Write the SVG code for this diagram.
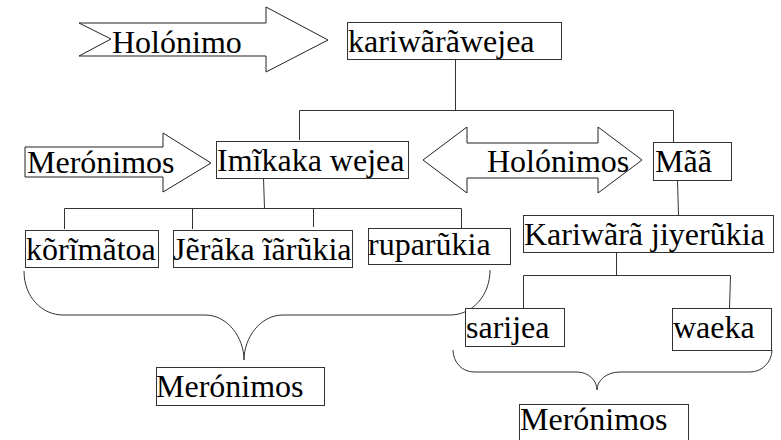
<svg xmlns="http://www.w3.org/2000/svg" width="781" height="440" viewBox="0 0 781 440">
  <style>
    .box { fill: #ffffff; stroke: #333333; stroke-width: 1; }
    .arrow { fill: #ffffff; stroke: #222222; stroke-width: 1; stroke-linejoin: miter; }
    .lbl { font-family: "Liberation Serif", "Times New Roman", serif; font-size: 32px; fill: #000000; }
    .conn { fill: none; stroke: #333333; stroke-width: 1; }
  </style>
  <rect x="0" y="0" width="781" height="440" fill="#ffffff"/>

  <!-- tree connectors and braces -->
  <g id="connectors">
    <path class="conn" d="M455.5,59 L455.5,110.5 M299.5,140 L299.5,110.5 L673.5,110.5 L673.5,142"/>
    <path class="conn" d="M263.5,178 L264.5,208.5 M64.5,229 L64.5,208.5 L461.5,208.5 L461.5,228 M192.5,229 L192.5,208.5 M313.5,227 L313.5,208.5"/>
    <path class="conn" d="M677.5,180 L678.5,215"/>
    <path class="conn" d="M616.5,252 L616.5,275.5 M523.5,309 L523.5,275.5 L730.5,275.5 L729.5,308"/>
    <!-- brace under the three parts of Imĩkaka wejea -->
    <path class="conn" d="M24,271 C24,297 42,315 63,315 L205,315 C228,315 244,338 244,360 C244,338 260,315 283,315 L450,315 C472,315 490,296 490,270"/>
    <!-- brace under sarijea and waeka -->
    <path class="conn" d="M453,350 C453,362 462,372 474,372 L577,372 C588,372 597,380 597,390 C597,380 607,372 620,372 L750,372 C762,372 772,362 772,350"/>
  </g>

  <!-- relation arrows -->
  <g id="arrow-holonimo">
    <path class="arrow" d="M79,23 L266,23 L266,7 L328,40 L266,72 L266,56 L79,56 L111,39 Z"/>
    <text class="lbl" x="112" y="53">Holónimo</text>
  </g>
  <g id="arrow-meronimos">
    <path class="arrow" d="M25,147 L163,147 L163,133 L211,163 L163,192 L163,177 L25,177 Z"/>
    <text class="lbl" x="27" y="173">Merónimos</text>
  </g>
  <g id="arrow-holonimos">
    <path class="arrow" d="M423,160 L467,127 L467,143 L598,143 L598,127 L642,160 L598,193 L598,178 L467,178 L467,193 Z"/>
    <text class="lbl" x="487" y="172">Holónimos</text>
  </g>

  <!-- nodes -->
  <g id="n-kariwarawejea">
    <rect class="box" x="347.5" y="22.5" width="214" height="37"/>
    <text class="lbl" x="348" y="52">kariwãrãwejea</text>
  </g>
  <g id="n-imikaka">
    <rect class="box" x="216.5" y="141.5" width="192" height="37"/>
    <text class="lbl" x="217" y="171">Imĩkaka wejea</text>
  </g>
  <g id="n-maa">
    <rect class="box" x="653.5" y="142.5" width="78" height="38"/>
    <text class="lbl" x="655" y="172">Mãã</text>
  </g>
  <g id="n-korimatoa">
    <rect class="box" x="25.5" y="230.5" width="133" height="37"/>
    <text class="lbl" x="26" y="260">kõrĩmãtoa</text>
  </g>
  <g id="n-jeraka">
    <rect class="box" x="173.5" y="230.5" width="179" height="37"/>
    <text class="lbl" x="173" y="260">Jẽrãka ĩãrũkia</text>
  </g>
  <g id="n-ruparukia">
    <rect class="box" x="368.5" y="228.5" width="142" height="36"/>
    <text class="lbl" x="368" y="255">ruparũkia</text>
  </g>
  <g id="n-kariwara-jiyerukia">
    <rect class="box" x="523.5" y="215.5" width="250" height="37"/>
    <text class="lbl" x="524" y="245">Kariwãrã jiyerũkia</text>
  </g>
  <g id="n-sarijea">
    <rect class="box" x="465.5" y="308.5" width="99" height="38"/>
    <text class="lbl" x="466" y="338">sarijea</text>
  </g>
  <g id="n-waeka">
    <rect class="box" x="672.5" y="308.5" width="99" height="42"/>
    <text class="lbl" x="673" y="338">waeka</text>
  </g>
  <g id="n-meronimos-left">
    <rect class="box" x="156.5" y="367.5" width="168" height="38"/>
    <text class="lbl" x="156" y="397">Merónimos</text>
  </g>
  <g id="n-meronimos-right">
    <rect class="box" x="519.5" y="404.5" width="169" height="40"/>
    <text class="lbl" x="520" y="430">Merónimos</text>
  </g>
</svg>
